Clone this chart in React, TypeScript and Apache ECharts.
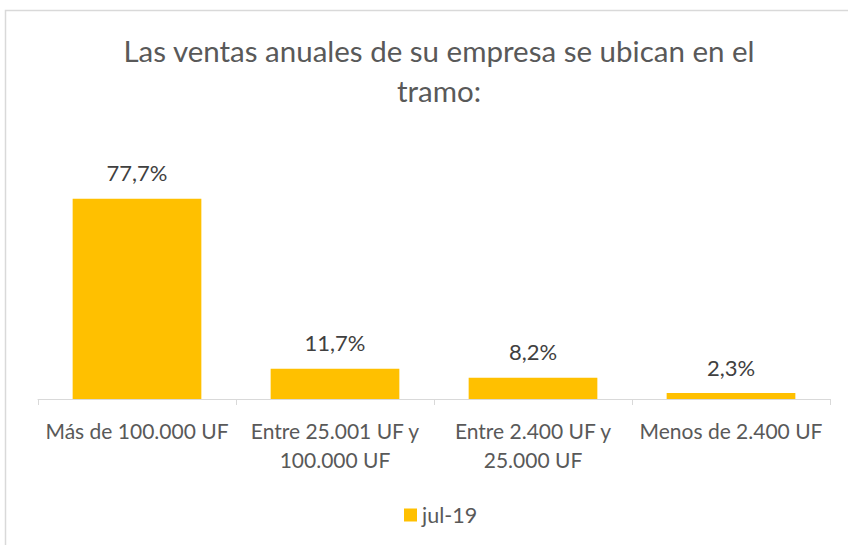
import React, { useEffect, useRef } from "react";
import * as echarts from "echarts";

const categories = ["Más de 100.000 UF", "Entre 25.001 UF y\n100.000 UF", "Entre 2.400 UF y\n25.000 UF", "Menos de 2.400 UF"];
const values = [77.7, 11.7, 8.2, 2.3];
const seriesName = "jul-19";
const titleText = "Las ventas anuales de su empresa se ubican en el\ntramo:";

export default function App() {
  const ref = useRef<HTMLDivElement>(null);
  useEffect(() => {
    document.body.style.margin = "0";
    const chart = echarts.init(ref.current!, null, { renderer: "svg" });
    const font = "Lato";
    chart.setOption({
      animation: false,
      backgroundColor: "#ffffff",
      textStyle: { fontFamily: font },
      graphic: [
        {
          type: "rect",
          shape: { x: 5.5, y: 10.5, width: 900, height: 600 },
          style: { fill: "none", stroke: "#d9d9d9", lineWidth: 1.5 },
          silent: true,
        },
      ],
      title: {
        text: titleText,
        left: 434,
        textAlign: "center",
        top: 25,
        textStyle: { fontFamily: font, fontSize: 29.5, fontWeight: "normal", color: "#595959", lineHeight: 40 },
      },
      legend: {
        bottom: 14,
        left: 399,
        itemWidth: 13,
        itemHeight: 13,
        icon: "rect",
        itemGap: 6,
        textStyle: { fontFamily: font, fontSize: 21.5, color: "#595959" },
        data: [seriesName],
      },
      grid: { left: 38, right: 18, top: 167, bottom: 146 },
      xAxis: {
        type: "category",
        data: categories,
        axisLine: { lineStyle: { color: "#d9d9d9", width: 1 } },
        axisTick: { show: true, length: 6, lineStyle: { color: "#d9d9d9" } },
        axisLabel: { fontFamily: font, fontSize: 21, color: "#595959", margin: 17, lineHeight: 29, interval: 0 },
      },
      yAxis: {
        type: "value",
        min: 0,
        max: 90,
        show: false,
        splitLine: { show: false },
      },
      series: [
        {
          name: seriesName,
          type: "bar",
          data: values,
          barWidth: "65%",
          itemStyle: { color: "#FFC000" },
          label: {
            show: true,
            position: "top",
            distance: 15,
            fontFamily: font,
            fontSize: 22,
            color: "#404040",
            formatter: (p: any) => p.value.toFixed(1).replace(".", ",") + "%",
          },
        },
      ],
    });
    return () => chart.dispose();
  }, []);
  return <div ref={ref} style={{ width: 848, height: 545 }} />;
}
